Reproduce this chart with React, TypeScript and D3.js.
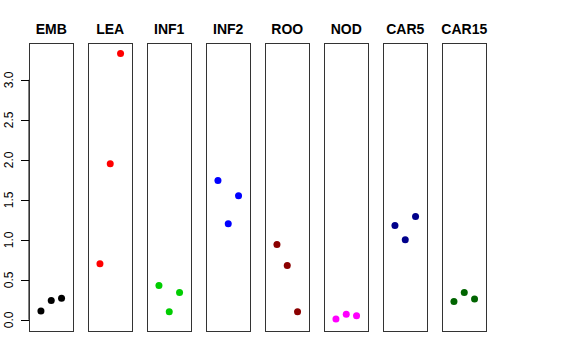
import React from 'react'
import * as d3 from 'd3'

const tissues = ['EMB', 'LEA', 'INF1', 'INF2', 'ROO', 'NOD', 'CAR5', 'CAR15']
const colors = ['#000000', '#FF0000', '#00CD00', '#0000FF', '#8B0000', '#FF00FF', '#00008B', '#006400']
const EMB = [0.11, 0.24, 0.27]
const LEA = [0.70, 1.95, 3.33]
const INF1 = [0.43, 0.10, 0.34]
const INF2 = [1.74, 1.20, 1.55]
const ROO = [0.94, 0.68, 0.10]
const NOD = [0.01, 0.07, 0.05]
const CAR5 = [1.18, 1.00, 1.29]
const CAR15 = [0.23, 0.34, 0.26]
const values = [EMB, LEA, INF1, INF2, ROO, NOD, CAR5, CAR15]
const yTicks = [0, 0.5, 1, 1.5, 2, 2.5, 3]

const font = 'Liberation Sans, Arial, Helvetica, sans-serif'

export default function App() {
  const W = 576, H = 360
  const top = 43, bottom = 331
  const y = d3.scaleLinear().domain([-0.14, 3.46]).range([bottom, top])
  const panel = d3.scaleBand().domain(tissues).range([29, 486.5]).paddingInner(0.246).paddingOuter(0)
  const bw = panel.bandwidth()

  return (
    <svg width={W} height={H} style={{ position: 'absolute', left: 0, top: 0, background: '#fff' }}>
      {/* y axis */}
      <g>
        <line x1={29} x2={29} y1={y(0)} y2={y(3)} stroke="#000" />
        {yTicks.map(t => (
          <g key={t}>
            <line x1={21} x2={29} y1={Math.round(y(t)) + 0.5} y2={Math.round(y(t)) + 0.5} stroke="#000" />
            <text transform={`translate(13,${y(t)}) rotate(-90)`} textAnchor="middle"
              fontFamily={font} fontSize={12} fill="#000">{t.toFixed(1)}</text>
          </g>
        ))}
      </g>
      {tissues.map((name, i) => {
        const left = panel(name)!
        const x = d3.scaleLinear().domain([-0.16, 4.16]).range([left, left + bw])
        return (
          <g key={name}>
            <rect x={Math.round(left) + 0.5} y={top + 0.5} width={Math.round(bw)} height={bottom - top}
              fill="none" stroke="#333" />
            <text x={left + bw / 2} y={34} textAnchor="middle" fontFamily={font}
              fontWeight="bold" fontSize={14} fill="#000">{name}</text>
            {values[i].map((v, j) => (
              <circle key={j} cx={x(j + 1)} cy={y(v)} r={3.5} fill={colors[i]} />
            ))}
          </g>
        )
      })}
    </svg>
  )
}
